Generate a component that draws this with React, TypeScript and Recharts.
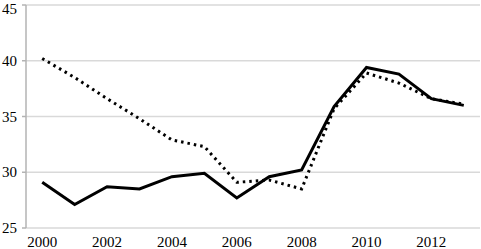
import { LineChart, Line, XAxis, YAxis, CartesianGrid } from "recharts";

const years = [2000, 2001, 2002, 2003, 2004, 2005, 2006, 2007, 2008, 2009, 2010, 2011, 2012, 2013];
const solidValues = [29.1, 27.1, 28.7, 28.5, 29.6, 29.9, 27.7, 29.6, 30.2, 35.9, 39.4, 38.8, 36.6, 36.0];
const dottedValues = [40.2, 38.5, 36.6, 34.8, 32.9, 32.3, 29.1, 29.3, 28.5, 35.7, 38.9, 38.0, 36.6, 36.1];
const yTicks = [25, 30, 35, 40, 45];
const yearLabels = [2000, 2002, 2004, 2006, 2008, 2010, 2012];
const boundaryTicks = [...years.map((y) => y - 0.5), 2013.5];

const data = years.map((year, i) => ({
  year,
  solid: solidValues[i],
  dotted: dottedValues[i],
}));

const serif = "'Liberation Serif', 'Times New Roman', 'DejaVu Serif', serif";

// custom ticks so the serif font actually sticks
const YearTick = (props: any) => (
  <text x={props.x} y={props.y} textAnchor="middle" style={{ fontFamily: serif, fontSize: 15 }} fill="#000">
    {props.payload.value}
  </text>
);

const ValueTick = (props: any) => (
  <text x={props.x} y={props.y + 5} textAnchor="end" style={{ fontFamily: serif, fontSize: 15 }} fill="#000">
    {props.payload.value}
  </text>
);

export default function App() {
  return (
    <div style={{ position: "absolute", left: 0, top: 0 }}>
      <LineChart width={481} height={249} data={data} margin={{ top: 5, right: 1, bottom: 0, left: 0 }}>
        <CartesianGrid vertical={false} stroke="#d9d9d9" strokeWidth={1.5} xAxisId="main" />
        <XAxis
          xAxisId="main"
          dataKey="year"
          type="number"
          domain={[1999.5, 2013.5]}
          ticks={boundaryTicks}
          tickFormatter={() => ""}
          stroke="#b3b3b3"
          strokeWidth={1.5}
          tickSize={4}
          height={0}
        />
        <XAxis
          xAxisId="labels"
          dataKey="year"
          type="number"
          domain={[1999.5, 2013.5]}
          ticks={yearLabels}
          axisLine={false}
          tickLine={false}
          tickSize={0}
          tickMargin={19}
          tick={<YearTick />}
          height={21}
        />
        <YAxis
          domain={[25, 45]}
          ticks={yTicks}
          width={26}
          stroke="#b3b3b3"
          strokeWidth={1.5}
          tickSize={4}
          tickMargin={5}
          tick={<ValueTick />}
        />
        <Line
          xAxisId="main"
          type="linear"
          dataKey="dotted"
          stroke="#000"
          strokeWidth={3}
          strokeDasharray="2.5 4"
          dot={false}
          isAnimationActive={false}
        />
        <Line
          xAxisId="main"
          type="linear"
          dataKey="solid"
          stroke="#000"
          strokeWidth={3}
          dot={false}
          isAnimationActive={false}
        />
      </LineChart>
    </div>
  );
}
